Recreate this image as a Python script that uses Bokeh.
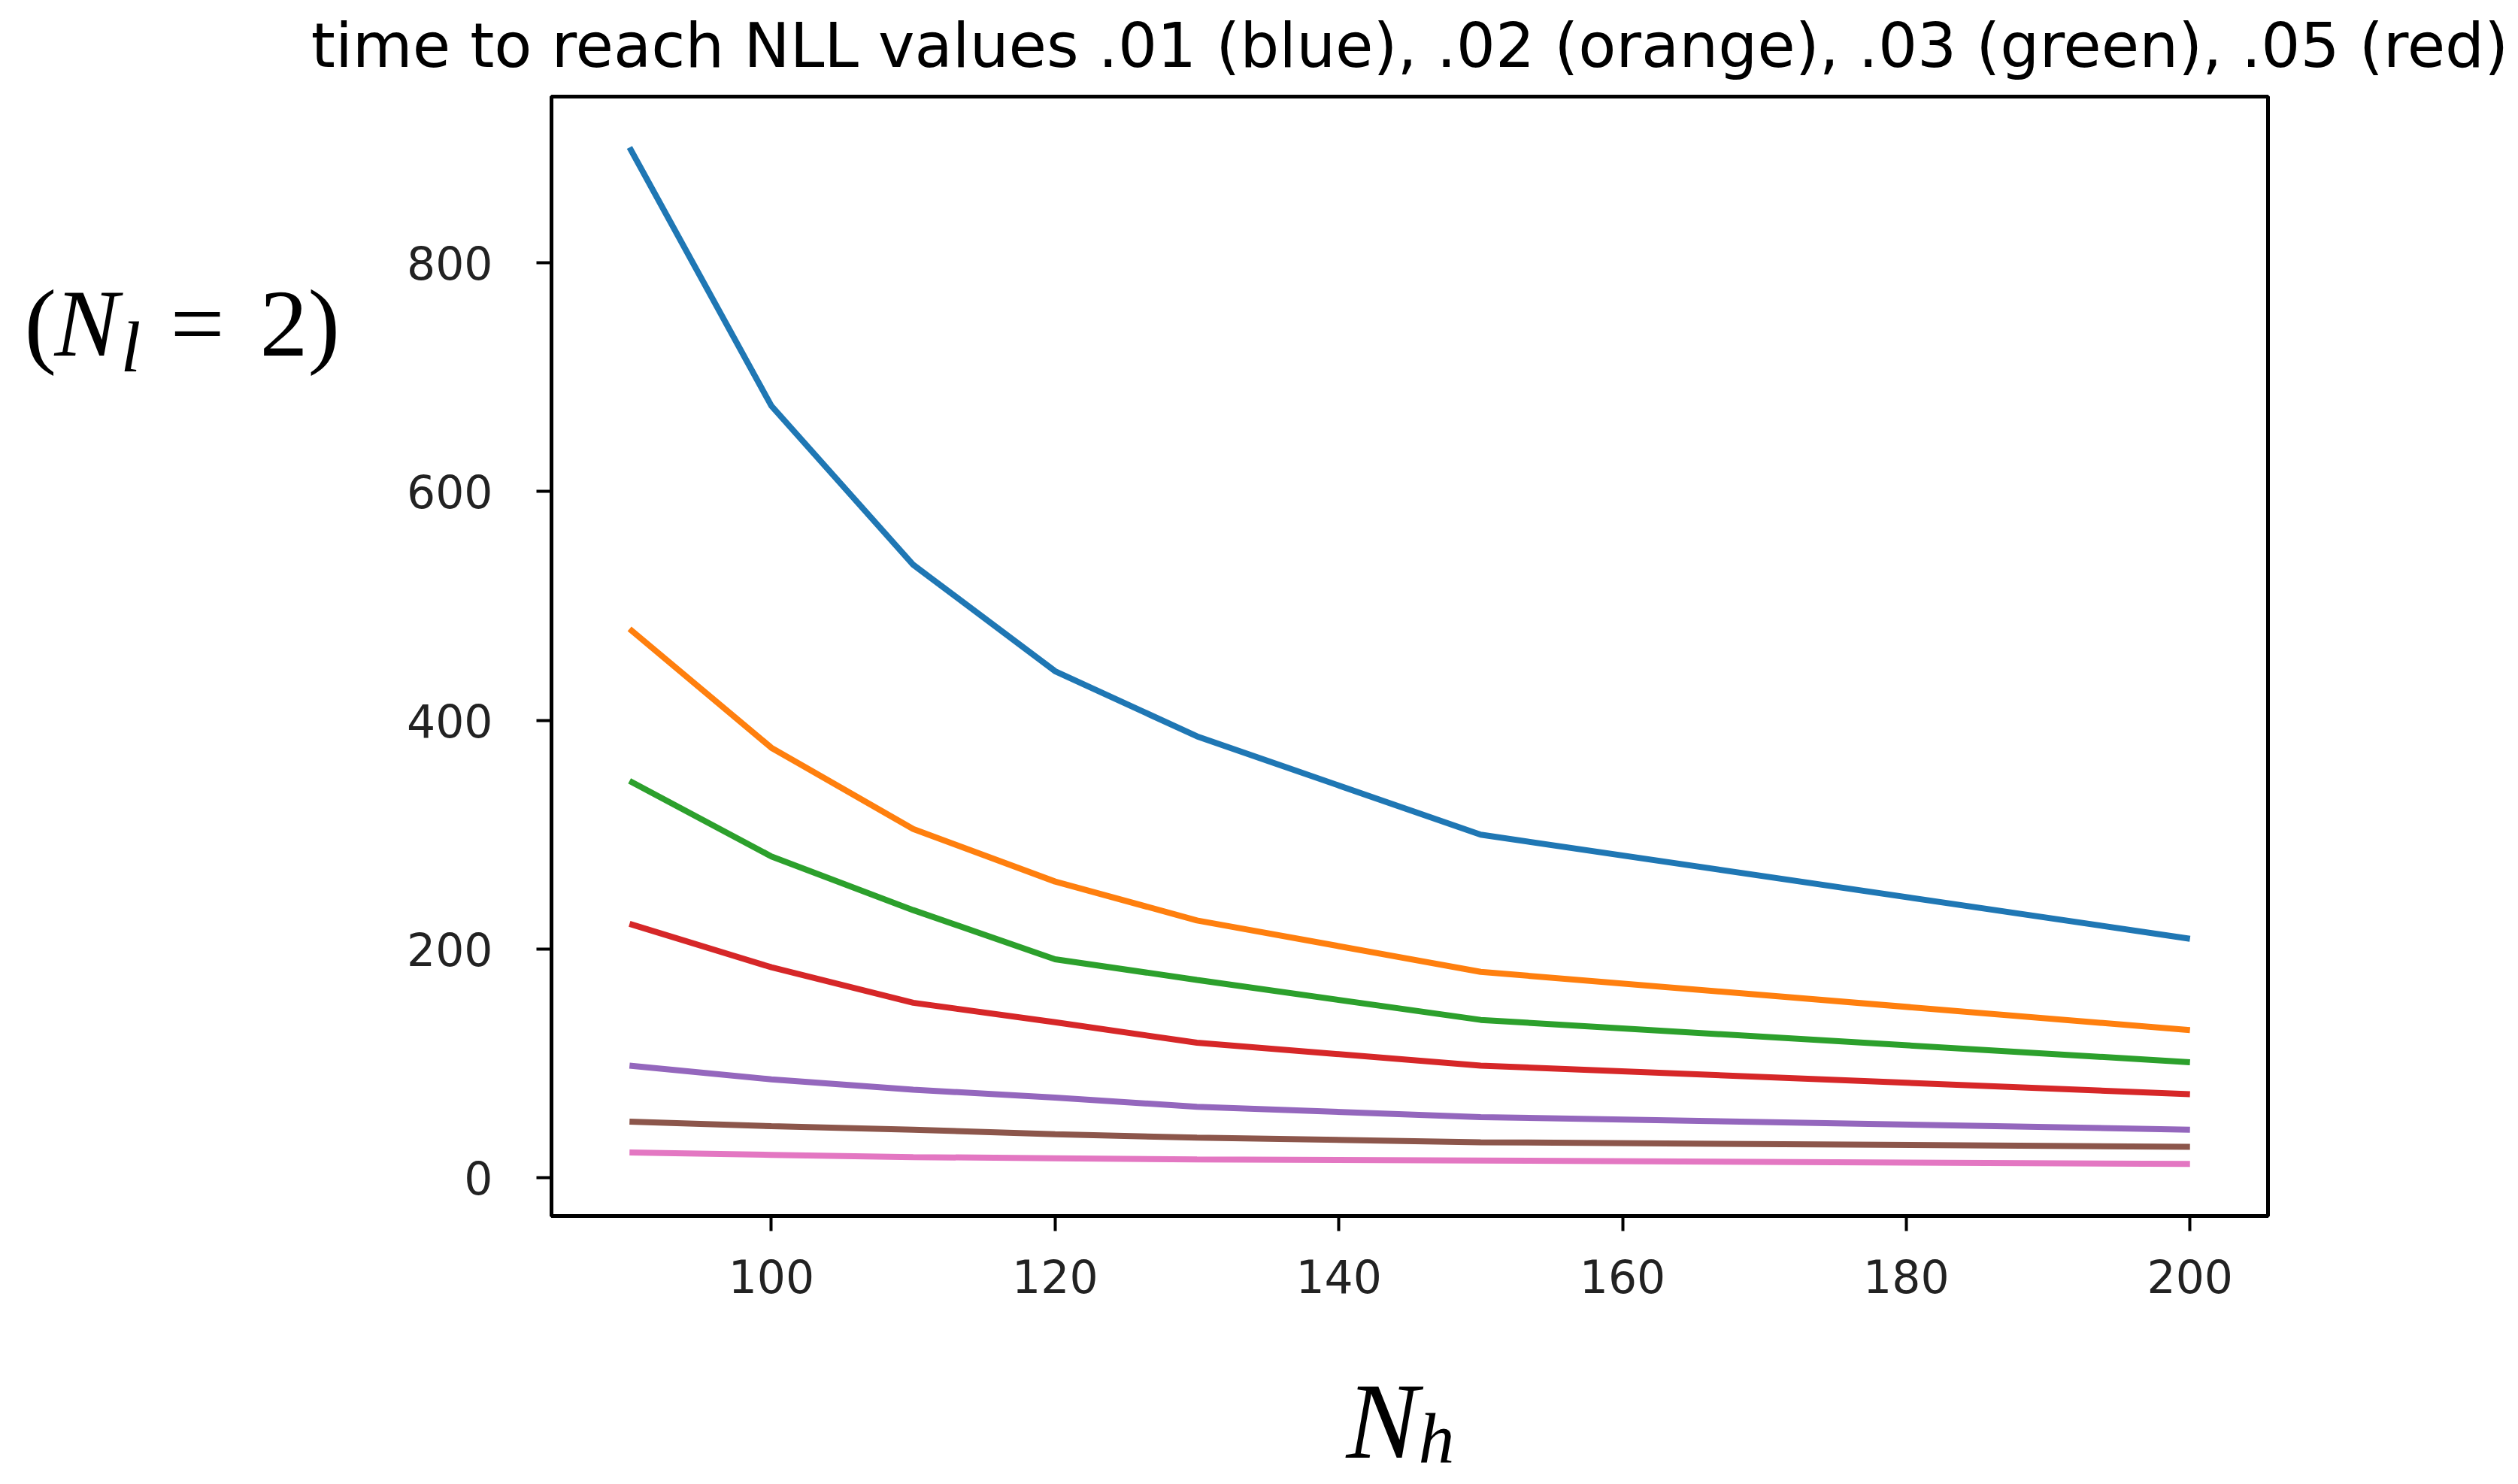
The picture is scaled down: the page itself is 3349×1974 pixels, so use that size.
from bokeh.plotting import figure
from bokeh.models import FixedTicker, Range1d, Label
from bokeh.layouts import column, row
from bokeh.embed import file_html
from bokeh.resources import INLINE

# ---- data ----
n_h = [90, 100, 110, 120, 130, 150, 200]
t_blue = [901, 675, 536, 443, 386, 300, 209]
t_orange = [480, 376, 305, 259, 225, 180, 129]
t_green = [347, 281, 234, 191, 173, 138, 101]
t_red = [222, 184, 153, 136, 118, 98, 73]
t_purple = [98, 86, 77, 70, 62, 53, 42]
t_brown = [49, 45, 42, 38, 35, 31, 27]
t_pink = [22, 20, 18, 17, 16, 15, 12]
series = [t_blue, t_orange, t_green, t_red, t_purple, t_brown, t_pink]
colors = ["#1f77b4", "#ff7f0e", "#2ca02c", "#d62728", "#9467bd", "#8c564b", "#e377c2"]
x_ticks = [100, 120, 140, 160, 180, 200]
y_ticks = [0, 200, 400, 600, 800]
title_text = "time to reach NLL values .01 (blue), .02 (orange), .03 (green), .05 (red)"

# ---- layout (pixels) ----
W, H = 3349, 1974
TH = 120            # title strip height
LW = 500            # left label strip width
MH = 1780           # bottom of main plot block
BH = H - MH         # bottom label strip height
FL, FR, FT, FB = 733, 3016, 128, 1617   # frame edges in page pixels
X0, X1 = 84.5, 205.5
Y0, Y1 = -33.5, 945.5

p = figure(width=W - LW, height=MH - TH, output_backend="svg", toolbar_location=None,
           x_range=Range1d(X0, X1), y_range=Range1d(Y0, Y1),
           min_border_left=FL - LW, min_border_right=W - FR,
           min_border_top=FT - TH, min_border_bottom=MH - FB)
p.background_fill_color = "white"
p.border_fill_color = "white"
p.grid.visible = False
p.outline_line_color = "black"
p.outline_line_width = 5
p.outline_line_alpha = 1.0

for ax, ticks in ((p.xaxis, x_ticks), (p.yaxis, y_ticks)):
    ax.ticker = FixedTicker(ticks=ticks)
    ax.major_label_text_font = "DejaVu Sans"
    ax.major_label_text_font_size = "60px"
    ax.major_label_text_color = "#222222"
    ax.major_tick_out = 20
    ax.major_tick_in = 0
    ax.major_tick_line_width = 4
    ax.major_tick_line_color = "black"
    ax.minor_tick_line_color = None
    ax.axis_line_width = 5
    ax.axis_line_color = "black"
p.xaxis.major_label_standoff = 37
p.yaxis.major_label_standoff = 58

for ys, c in zip(series, colors):
    p.line(n_h, ys, line_color=c, line_width=8)


def strip(width, height):
    f = figure(width=width, height=height, output_backend="svg", toolbar_location=None,
               x_range=Range1d(0, width), y_range=Range1d(height, 0),
               x_axis_type=None, y_axis_type=None, min_border=0,
               min_border_left=0, min_border_right=0, min_border_top=0, min_border_bottom=0)
    f.outline_line_color = None
    f.background_fill_color = "white"
    f.border_fill_color = "white"
    f.title.visible = False
    return f


# measured offset of the rendered glyphs from the anchor, in em
SHIFT = {"DejaVu Sans": 0.37, "Liberation Serif": 0.30}


def add_label(f, text, px, py, size, style="normal", font="Liberation Serif", align="left"):
    f.add_layout(Label(x=px, y=py - SHIFT[font] * size, text=text, text_font=font,
                       text_font_size=f"{size}px", text_font_style=style,
                       text_color="black", text_align=align,
                       text_baseline="alphabetic"))


# title strip
top = strip(W, TH)
add_label(top, title_text, (FL + FR) / 2, 90, 82, font="DejaVu Sans", align="center")

# left strip: (N_l = 2)
left = strip(LW, MH - TH)
LB = 494 - TH
add_label(left, "(", 32, LB, 128)
add_label(left, "N", 72, LB, 128, "italic")
add_label(left, "l", 160, LB + 26, 96, "italic")
add_label(left, "=", 226, LB, 128)
add_label(left, "2)", 345, LB, 128)

# bottom strip: N_h
bottom = strip(W, BH)
add_label(bottom, "N", 1790, 1933 - MH, 144, "italic")
add_label(bottom, "h", 1886, 1942 - MH, 96, "italic")

layout = column(top, row(left, p, spacing=0), bottom, spacing=0)
open("out.html", "w").write(file_html(layout, INLINE))
